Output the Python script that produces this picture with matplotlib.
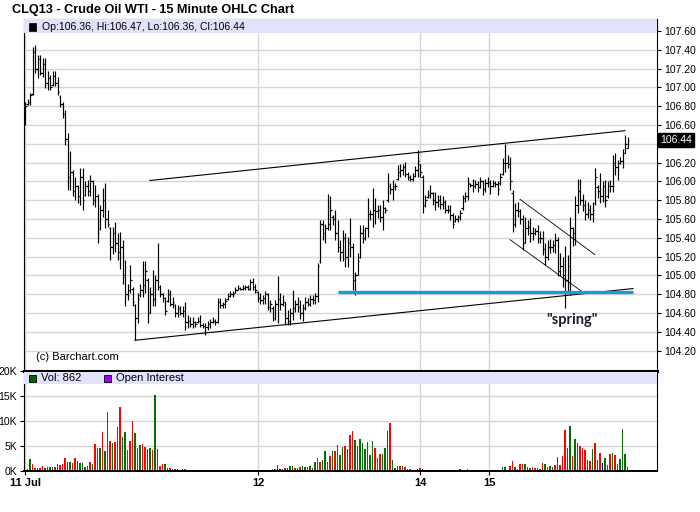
import matplotlib
matplotlib.use("Agg")
import matplotlib.pyplot as plt
from matplotlib.patches import Rectangle
import numpy as np

# ---------------- data (15 minute bars) ----------------
highs = [106.85, 106.88, 106.94, 107.43, 107.45, 107.34, 107.34, 107.31, 107.31, 107.18,
         107.13, 107.18, 107.18, 107.11, 106.92, 106.85, 106.76, 106.51, 106.32, 106.12,
         106.05, 105.96, 106.14, 106.14, 106.00, 106.01, 106.07, 106.01, 105.96, 105.87,
         105.75, 105.93, 105.98, 105.70, 105.52, 105.52, 105.57, 105.45, 105.46, 105.38,
         105.16, 104.91, 105.11, 104.88, 104.70, 104.81, 104.91, 105.15, 105.15, 104.97,
         104.88, 105.06, 105.00, 105.34, 104.90, 104.81, 104.77, 104.86, 104.84, 104.77,
         104.70, 104.68, 104.67, 104.67, 104.72, 104.58, 104.56, 104.56, 104.52, 104.56,
         104.58, 104.49, 104.49, 104.52, 104.54, 104.56, 104.54, 104.76, 104.76, 104.72,
         104.76, 104.81, 104.83, 104.83, 104.88, 104.90, 104.88, 104.90, 104.90, 104.90,
         104.96, 104.97, 104.91, 104.83, 104.81, 104.79, 104.83, 104.81, 104.74, 104.67,
         104.74, 104.99, 104.81, 104.79, 104.72, 104.63, 104.65, 104.85, 104.74, 104.77,
         104.74, 104.70, 104.77, 104.76, 104.79, 104.79, 104.81, 105.13, 105.59, 105.59,
         105.55, 105.87, 105.84, 105.64, 105.70, 105.59, 105.38, 105.48, 105.45, 105.41,
         105.61, 105.34, 105.04, 105.24, 105.54, 105.54, 105.52, 105.82, 105.70, 105.93,
         105.82, 105.75, 105.75, 105.80, 105.73, 106.09, 105.98, 106.02, 105.98, 106.17,
         106.19, 106.19, 106.21, 106.10, 106.07, 106.09, 106.16, 106.33, 106.19, 106.07,
         105.86, 105.91, 105.96, 105.89, 105.89, 105.86, 105.86, 105.84, 105.80, 105.75,
         105.75, 105.66, 105.64, 105.64, 105.70, 105.86, 105.89, 106.05, 105.98, 106.03,
         106.02, 106.00, 106.05, 106.02, 106.03, 106.05, 106.02, 106.02, 106.00, 106.00,
         106.09, 106.25, 106.40, 106.28, 106.26, 105.91, 105.77, 105.78, 105.71, 105.64,
         105.62, 105.59, 105.61, 105.52, 105.50, 105.54, 105.47, 105.47, 105.34, 105.38,
         105.39, 105.38, 105.45, 105.41, 105.24, 105.20, 105.31, 105.22, 105.62, 105.52,
         105.84, 106.03, 106.03, 105.87, 105.80, 105.78, 105.75, 105.78, 106.14, 105.96,
         106.09, 106.00, 106.02, 106.00, 106.02, 106.28, 106.30, 106.23, 106.26, 106.35,
         106.49, 106.47]

lows = [106.60, 106.81, 106.81, 106.92, 107.15, 107.10, 107.13, 107.11, 106.99, 106.97,
        106.97, 107.02, 107.02, 106.92, 106.79, 106.67, 106.39, 105.91, 105.91, 105.84,
        105.80, 105.77, 105.75, 105.70, 105.84, 105.84, 105.84, 105.75, 105.73, 105.34,
        105.48, 105.62, 105.50, 105.52, 105.16, 105.23, 105.25, 105.16, 105.07, 104.91,
        104.67, 104.74, 104.81, 104.67, 104.31, 104.49, 104.77, 104.77, 104.81, 104.49,
        104.60, 104.67, 104.67, 104.84, 104.77, 104.72, 104.58, 104.72, 104.67, 104.65,
        104.56, 104.56, 104.58, 104.56, 104.42, 104.44, 104.45, 104.44, 104.45, 104.49,
        104.45, 104.44, 104.37, 104.42, 104.44, 104.49, 104.47, 104.49, 104.65, 104.65,
        104.65, 104.74, 104.77, 104.77, 104.81, 104.84, 104.84, 104.84, 104.84, 104.84,
        104.85, 104.85, 104.81, 104.72, 104.70, 104.70, 104.70, 104.63, 104.61, 104.51,
        104.53, 104.49, 104.63, 104.67, 104.47, 104.47, 104.47, 104.53, 104.61, 104.61,
        104.54, 104.51, 104.63, 104.67, 104.67, 104.70, 104.70, 104.72, 105.13, 105.38,
        105.34, 105.48, 105.48, 105.54, 105.38, 105.25, 105.15, 105.15, 105.09, 105.09,
        105.20, 104.85, 104.79, 105.00, 105.18, 105.34, 105.38, 105.41, 105.59, 105.52,
        105.55, 105.61, 105.57, 105.48, 105.66, 105.78, 105.87, 105.80, 105.91, 106.02,
        106.05, 106.07, 106.05, 106.02, 106.00, 106.00, 106.05, 106.05, 106.05, 105.66,
        105.73, 105.82, 105.82, 105.75, 105.70, 105.73, 105.71, 105.71, 105.66, 105.66,
        105.59, 105.50, 105.57, 105.57, 105.59, 105.70, 105.78, 105.80, 105.94, 105.89,
        105.93, 105.89, 105.93, 105.86, 105.89, 105.94, 105.87, 105.94, 105.94, 105.86,
        105.96, 106.07, 106.10, 106.14, 105.91, 105.46, 105.52, 105.62, 105.55, 105.27,
        105.34, 105.43, 105.36, 105.38, 105.43, 105.34, 105.34, 105.22, 105.11, 105.16,
        105.24, 105.25, 105.24, 104.99, 104.99, 104.88, 104.65, 104.83, 104.79, 105.31,
        105.32, 105.66, 105.75, 105.68, 105.59, 105.61, 105.59, 105.57, 105.75, 105.82,
        105.77, 105.78, 105.73, 105.82, 105.89, 105.89, 106.07, 106.02, 106.19, 106.14,
        106.30, 106.36]

opens = [106.70, 106.82, 106.85, 106.93, 107.38, 107.20, 107.30, 107.15, 107.25, 107.05,
         107.10, 107.03, 107.12, 107.05, 106.90, 106.82, 106.72, 106.45, 106.05, 106.10,
         105.90, 105.95, 105.85, 106.05, 105.86, 105.95, 105.90, 106.00, 105.80, 105.85,
         105.50, 105.70, 105.80, 105.60, 105.50, 105.30, 105.45, 105.35, 105.25, 105.30,
         105.00, 104.80, 104.85, 104.86, 104.68, 104.55, 104.79, 104.85, 104.90, 104.95,
         104.60, 104.80, 104.75, 104.95, 104.88, 104.80, 104.76, 104.73, 104.80, 104.70,
         104.68, 104.60, 104.65, 104.60, 104.62, 104.50, 104.52, 104.48, 104.50, 104.50,
         104.52, 104.47, 104.46, 104.45, 104.48, 104.50, 104.52, 104.50, 104.72, 104.68,
         104.70, 104.75, 104.78, 104.80, 104.81, 104.85, 104.87, 104.86, 104.87, 104.88,
         104.86, 104.93, 104.88, 104.82, 104.76, 104.74, 104.76, 104.80, 104.66, 104.65,
         104.55, 104.70, 104.75, 104.70, 104.72, 104.55, 104.52, 104.60, 104.65, 104.70,
         104.66, 104.60, 104.65, 104.72, 104.70, 104.75, 104.74, 104.78, 105.15, 105.55,
         105.45, 105.50, 105.55, 105.62, 105.60, 105.45, 105.30, 105.25, 105.40, 105.20,
         105.35, 105.30, 104.95, 105.00, 105.20, 105.45, 105.40, 105.50, 105.65, 105.65,
         105.70, 105.68, 105.70, 105.62, 105.72, 105.80, 105.95, 105.92, 105.95, 106.03,
         106.10, 106.12, 106.15, 106.08, 106.05, 106.03, 106.06, 106.12, 106.18, 106.05,
         105.75, 105.83, 105.86, 105.88, 105.80, 105.78, 105.80, 105.76, 105.78, 105.70,
         105.70, 105.64, 105.58, 105.60, 105.62, 105.72, 105.82, 105.84, 105.97, 105.96,
         105.95, 105.97, 105.94, 106.00, 105.92, 105.98, 105.99, 105.95, 105.98, 105.97,
         105.98, 106.08, 106.20, 106.20, 106.18, 105.88, 105.55, 105.70, 105.68, 105.60,
         105.35, 105.50, 105.52, 105.45, 105.45, 105.47, 105.40, 105.40, 105.28, 105.20,
         105.30, 105.30, 105.32, 105.38, 105.05, 105.10, 105.00, 104.95, 105.10, 105.50,
         105.45, 105.75, 105.90, 105.80, 105.75, 105.65, 105.70, 105.65, 105.77, 105.94,
         105.90, 105.85, 105.95, 105.84, 105.95, 105.95, 106.20, 106.15, 106.20, 106.22,
         106.30, 106.36]

closes = [106.80, 106.85, 106.92, 107.38, 107.20, 107.30, 107.15, 107.25, 107.05, 107.10,
          107.00, 107.12, 107.05, 106.95, 106.82, 106.72, 106.45, 106.05, 106.10, 105.90,
          105.95, 105.85, 106.05, 105.80, 105.95, 105.90, 106.00, 105.80, 105.85, 105.45,
          105.70, 105.80, 105.60, 105.55, 105.30, 105.45, 105.35, 105.25, 105.30, 105.00,
          104.80, 104.85, 104.95, 104.72, 104.55, 104.75, 104.85, 104.90, 105.05, 104.60,
          104.80, 104.75, 104.95, 104.88, 104.80, 104.76, 104.62, 104.80, 104.70, 104.72,
          104.60, 104.65, 104.60, 104.62, 104.50, 104.52, 104.48, 104.50, 104.48, 104.52,
          104.47, 104.46, 104.45, 104.48, 104.50, 104.52, 104.50, 104.72, 104.68, 104.70,
          104.73, 104.78, 104.80, 104.80, 104.85, 104.87, 104.86, 104.87, 104.88, 104.86,
          104.93, 104.88, 104.84, 104.76, 104.74, 104.76, 104.80, 104.66, 104.70, 104.55,
          104.70, 104.75, 104.70, 104.72, 104.55, 104.52, 104.60, 104.65, 104.70, 104.66,
          104.60, 104.65, 104.72, 104.70, 104.75, 104.74, 104.78, 105.10, 105.55, 105.45,
          105.50, 105.55, 105.70, 105.60, 105.45, 105.30, 105.25, 105.40, 105.20, 105.35,
          105.30, 104.95, 105.00, 105.15, 105.45, 105.40, 105.50, 105.65, 105.65, 105.70,
          105.68, 105.70, 105.62, 105.72, 105.70, 105.95, 105.92, 105.95, 105.95, 106.10,
          106.12, 106.15, 106.08, 106.05, 106.03, 106.06, 106.12, 106.22, 106.10, 105.75,
          105.80, 105.86, 105.88, 105.80, 105.78, 105.80, 105.76, 105.78, 105.70, 105.70,
          105.64, 105.55, 105.60, 105.62, 105.66, 105.82, 105.84, 105.98, 105.96, 105.95,
          105.97, 105.94, 106.00, 105.92, 105.98, 105.99, 105.95, 105.98, 105.97, 105.92,
          106.05, 106.20, 106.20, 106.18, 106.00, 105.55, 105.70, 105.68, 105.60, 105.35,
          105.50, 105.52, 105.45, 105.45, 105.47, 105.40, 105.40, 105.28, 105.20, 105.30,
          105.30, 105.32, 105.38, 105.05, 105.10, 105.00, 104.95, 105.10, 105.50, 105.45,
          105.75, 105.90, 105.80, 105.75, 105.65, 105.70, 105.65, 105.70, 106.05, 105.90,
          105.85, 105.95, 105.80, 105.95, 105.95, 106.20, 106.15, 106.20, 106.22, 106.30,
          106.40, 106.44]

volumes = [300, 400, 2400, 1400, 600, 600, 600, 1000, 700, 800,
           800, 800, 900, 1400, 1300, 1500, 2600, 1800, 1800, 1700,
           2600, 2100, 1700, 1700, 900, 1000, 1800, 1400, 5400, 4600,
           4600, 7900, 4000, 11800, 6000, 5700, 5900, 8800, 12800, 6800,
           7800, 4200, 6000, 10000, 7600, 4600, 5200, 5400, 4900, 4500,
           4600, 4200, 15200, 4400, 1000, 1500, 1400, 600, 600, 500,
           500, 500, 300, 500, 500, 300, 0, 0, 0, 0,
           0, 0, 200, 200, 200, 300, 0, 300, 200, 200,
           200, 0, 0, 200, 0, 200, 0, 0, 200, 0,
           0, 300, 0, 200, 200, 0, 200, 200, 200, 400,
           400, 1200, 400, 400, 600, 600, 1000, 1000, 600, 600,
           800, 1000, 800, 800, 1000, 600, 1800, 2600, 1900, 2200,
           4100, 1900, 3000, 4100, 4000, 5200, 3200, 4900, 5100, 4500,
           7200, 8100, 6200, 5000, 6400, 5700, 4400, 5900, 3200, 6000,
           4700, 2700, 3400, 3400, 4600, 8000, 9600, 2200, 600, 1000,
           1000, 1000, 800, 500, 500, 200, 200, 400, 600, 400,
           200, 0, 0, 200, 200, 0, 200, 200, 200, 300,
           300, 200, 300, 300, 500, 300, 200, 500, 200, 200,
           0, 200, 0, 200, 300, 200, 200, 0, 200, 200,
           200, 800, 800, 200, 1000, 2000, 800, 500, 1400, 1500,
           1400, 800, 600, 800, 600, 600, 400, 1600, 1400, 800,
           1000, 800, 1200, 2800, 1200, 3000, 8200, 4600, 9000, 3000,
           6400, 5600, 5000, 4600, 4200, 2200, 2000, 4400, 5600, 2200,
           3600, 1600, 2600, 1200, 3400, 3600, 3200, 1400, 2400, 8400,
           3400, 862]

# g = up, r = down, b = unchanged, - = no trade
vol_dirs = ("gggrrrrrgg" "ggrrrrrggr" "rggggrrgrr" "grgrrgrrrg" "grrrgggrrg"
            "grgrrrgrrg" "ggbrrg----" "--gggg-rrg" "g--g-g--r-" "-g-rr-rggr"
            "ggbgrgggrg" "rggrgrgrrg" "grrgrrggrg" "rrgggggggg" "rrrgggrggg"
            "rgrrrbggrg" "g--rg-rgrb" "bgbbggrgrg" "-r-rgrr-rg" "gggrrrgrrr"
            "grgrrrrrgr" "ggrrrrrggr" "ggrrrgrgrg" "rbggrgrrgg" "gg")

date_labels = ["11 Jul", "12", "14", "15"]
date_bars = [0, 93.2, 158, 185.6]

price_ticks = [104.2, 104.4, 104.6, 104.8, 105.0, 105.2, 105.4, 105.6, 105.8,
               106.0, 106.2, 106.4, 106.6, 106.8, 107.0, 107.2, 107.4, 107.6]
vol_ticks = [0, 5000, 10000, 15000, 20000]
vol_labels = ["0K", "5K", "10K", "15K", "20K"]

last_close = 106.44

# hand drawn annotations (bar index, price)
upper_line = ([50, 240], [106.01, 106.54])
lower_line = ([44, 243.2], [104.31, 104.86])
support_line = ([125.3, 243.3], [104.82, 104.82])
flag_top = ([198, 228], [105.81, 105.22])
flag_bottom = ([194, 222.7], [105.38, 104.83])

# ---------------- figure ----------------
plt.rcParams['font.family'] = ['Liberation Sans', 'DejaVu Sans']

W, H = 700, 512
fig = plt.figure(figsize=(W / 100, H / 100), dpi=100)
fig.patch.set_facecolor('white')

ax = fig.add_axes([24 / W, 1 - 371 / H, 633 / W, 352 / H])
axv = fig.add_axes([24 / W, 1 - 471 / H, 633 / W, 100 / H], sharex=ax)

gridc = '#d6d6d6'
n = len(highs)
idx = np.arange(n)

# OHLC bars
ax.vlines(idx, lows, highs, color='black', lw=0.85)
ax.hlines(opens, idx - 0.6, idx, color='black', lw=0.85)
ax.hlines(closes, idx, idx + 0.6, color='black', lw=0.85)

# trend lines
ax.plot(*upper_line, color='black', lw=0.8)
ax.plot(*lower_line, color='black', lw=0.8)
ax.plot(*flag_top, color='black', lw=0.6)
ax.plot(*flag_bottom, color='black', lw=0.6)
ax.plot(*support_line, color='#1a9ad6', lw=2.4, solid_capstyle='butt')

ax.text(218.8, 104.53, '"spring"', ha='center', va='center', fontsize=10.5,
        fontweight='bold', color='#1c1c30', family=['Lato', 'DejaVu Sans'])

ax.set_xlim(-0.4, 252.8)
ax.set_ylim(103.983, 107.728)

ax.set_yticks(price_ticks)
ax.set_yticklabels(["" if abs(t - 106.4) < 1e-6 else "%.2f" % t for t in price_ticks])
ax.yaxis.tick_right()
ax.tick_params(axis='y', length=3, width=0.8, labelsize=7.5, pad=2)
ax.tick_params(axis='x', length=0, labelbottom=False)
ax.set_xticks(date_bars)
ax.grid(True, color=gridc, lw=1)
ax.set_axisbelow(True)

ax.text(1.005, last_close, "%.2f" % last_close, transform=ax.get_yaxis_transform(),
        color='white', fontsize=7.5, va='center', ha='left',
        bbox=dict(facecolor='black', edgecolor='black', pad=1.2))

# header band
ax.add_patch(Rectangle((0, 0.96), 1, 0.04, transform=ax.transAxes,
                       facecolor='#e2e2fa', edgecolor='none', zorder=3))
ax.add_patch(Rectangle((5 / 633, 0.966), 7 / 633, 0.022, transform=ax.transAxes,
                       facecolor='black', edgecolor='black', lw=0.5, zorder=4))
ax.text(18 / 633, 0.977, "Op:%.2f, Hi:%.2f, Lo:%.2f, Cl:%.2f" % (opens[-1], highs[-1], lows[-1], closes[-1]),
        transform=ax.transAxes, fontsize=7.6, va='center', ha='left', zorder=4)
ax.text(12 / 633, 0.04, "(c) Barchart.com", transform=ax.transAxes,
        fontsize=8, va='center', ha='left')

for s in ax.spines.values():
    s.set_linewidth(0.8)

# volume
vcol = {'g': '#007000', 'r': '#ff0000', 'b': '#000080', '-': 'white'}
axv.bar(idx, volumes, width=0.5, color=[vcol[c] for c in vol_dirs], lw=0)
axv.set_ylim(0, 20000)
axv.set_yticks(vol_ticks)
axv.set_yticklabels(vol_labels)
axv.tick_params(axis='y', length=3, width=0.8, labelsize=7.5, pad=2)
axv.set_xticks(date_bars)
axv.set_xticklabels(date_labels, fontweight='bold', fontsize=8)
axv.tick_params(axis='x', length=3, width=0.8, pad=2)
axv.grid(True, color=gridc, lw=1)
axv.set_axisbelow(True)

axv.add_patch(Rectangle((0, 0.87), 1, 0.12, transform=axv.transAxes,
                        facecolor='#e2e2fa', edgecolor='none', zorder=3))
axv.add_patch(Rectangle((5 / 633, 0.89), 7 / 633, 0.075, transform=axv.transAxes,
                        facecolor='#006400', edgecolor='black', lw=0.6, zorder=4))
axv.text(17 / 633, 0.93, "Vol: %d" % volumes[-1], transform=axv.transAxes,
         fontsize=8, va='center', ha='left', zorder=4)
axv.add_patch(Rectangle((80 / 633, 0.89), 7 / 633, 0.075, transform=axv.transAxes,
                        facecolor='#9900ff', edgecolor='black', lw=0.6, zorder=4))
axv.text(92 / 633, 0.93, "Open Interest", transform=axv.transAxes,
         fontsize=8, va='center', ha='left', zorder=4)

for s in axv.spines.values():
    s.set_linewidth(0.8)
axv.spines['top'].set_linewidth(2.2)
axv.spines['bottom'].set_linewidth(1.4)

fig.text(12 / W, 1 - 10 / H, "CLQ13 - Crude Oil WTI - 15 Minute OHLC Chart",
         fontsize=9.2, fontweight='bold', va='center', ha='left')

fig.savefig("out.png", dpi=100)
